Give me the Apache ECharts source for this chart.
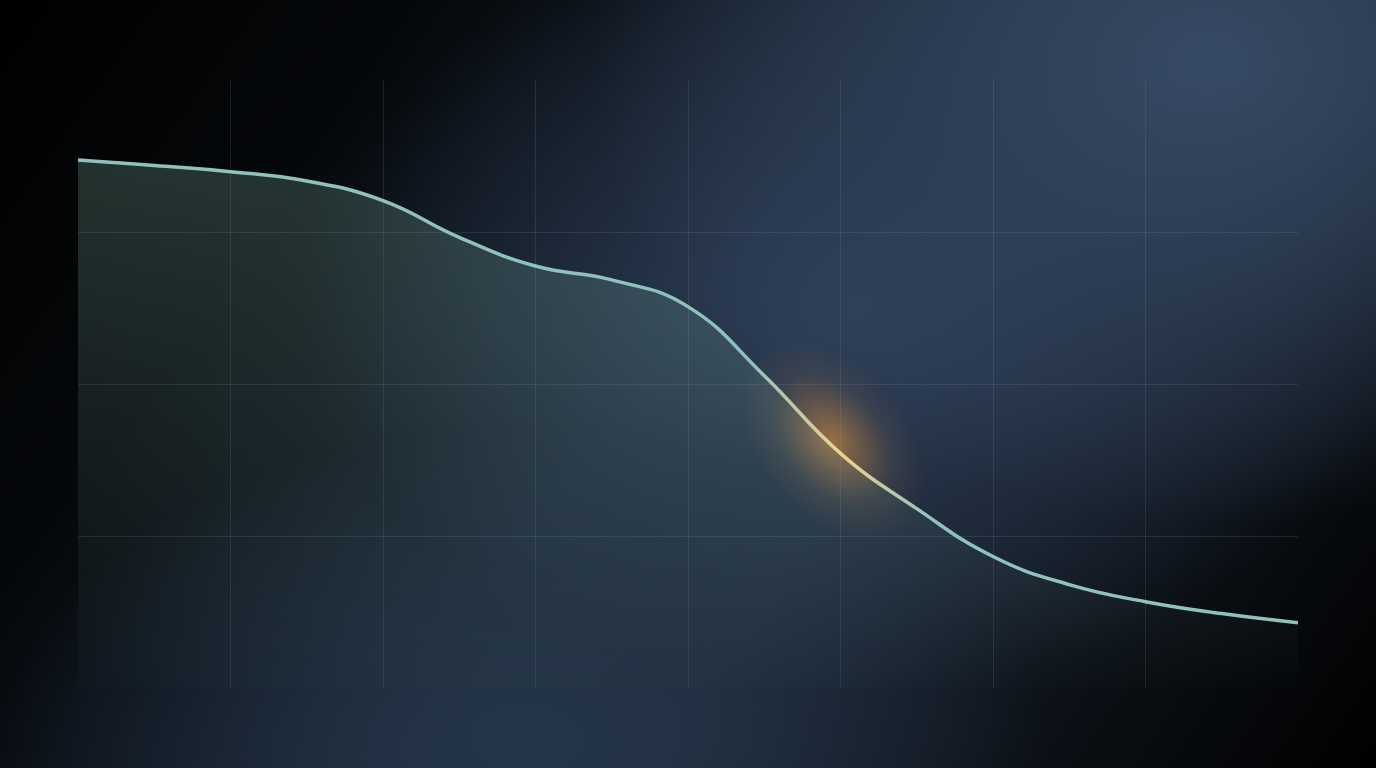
<!DOCTYPE html>
<html>
<head>
<meta charset="utf-8">
<script src="https://cdn.jsdelivr.net/npm/echarts@6/dist/echarts.min.js"></script>
<style>
  html, body { margin: 0; padding: 0; width: 100%; height: 100%; overflow: hidden; background: #000; }
  #main {
    width: 1376px; height: 768px;
    background:
      radial-gradient(ellipse 45% 60% at 88% 8%, rgba(55,74,100,1) 0%, rgba(48,66,90,0.8) 40%, rgba(40,55,75,0) 100%),
      radial-gradient(ellipse 40% 50% at 62% 40%, rgba(48,66,92,0.9) 0%, rgba(44,60,84,0.5) 50%, rgba(40,55,75,0) 100%),
      radial-gradient(ellipse 38% 40% at 38% 96%, rgba(38,55,75,0.95) 0%, rgba(38,55,75,0) 100%),
      linear-gradient(125deg, #000000 0%, #05080b 22%, #172230 48%, #1b2636 62%, #0a0e13 84%, #000000 100%);
  }
</style>
</head>
<body>
<div id="main"></div>
<script>
// x positions (grid units) and values
var xValues = [0, 0.5, 1, 1.5, 2, 2.5, 3, 3.5, 4, 4.5, 5, 5.5, 6, 6.5, 7, 7.5, 8];
var yValues = [3.474, 3.438, 3.397, 3.335, 3.207, 2.965, 2.776, 2.685, 2.509, 2.055, 1.544, 1.18, 0.865, 0.68, 0.568, 0.49, 0.43];
var glowPoint = [4.95, 1.63];

var chart = echarts.init(document.getElementById('main'));

var lineData = [];
for (var i = 0; i < xValues.length; i++) {
	lineData.push([xValues[i], yValues[i]]);
}

var gridLine = {
	show: true,
	showMinLine: false,
	showMaxLine: false,
	lineStyle: { color: 'rgba(150,170,190,0.15)', width: 1 }
};

option = {
	backgroundColor: 'transparent',
	animation: false,
	grid: { left: 78, right: 78, top: 80, bottom: 80 },
	xAxis: {
		type: 'value',
		min: 0,
		max: 8,
		interval: 1,
		axisLine: { show: false },
		axisTick: { show: false },
		axisLabel: { show: false },
		splitLine: gridLine
	},
	yAxis: {
		type: 'value',
		min: 0,
		max: 4,
		interval: 1,
		axisLine: { show: false },
		axisTick: { show: false },
		axisLabel: { show: false },
		splitLine: gridLine
	},
	series: [
		{
			type: 'scatter',
			z: 1,
			silent: true,
			symbol: 'circle',
			symbolSize: [150, 230],
			symbolRotate: 40,
			data: [glowPoint],
			itemStyle: {
				color: new echarts.graphic.RadialGradient(0.5, 0.5, 0.5, [
					{ offset: 0, color: 'rgba(240,160,65,0.7)' },
					{ offset: 0.3, color: 'rgba(225,150,70,0.45)' },
					{ offset: 0.65, color: 'rgba(200,140,70,0.14)' },
					{ offset: 1, color: 'rgba(200,140,70,0)' }
				])
			}
		},
		{
			type: 'line',
			z: 2,
			smooth: 0.45,
			symbol: 'none',
			data: lineData,
			lineStyle: {
				width: 3.5,
				color: new echarts.graphic.LinearGradient(0, 0, 1, 0, [
					{ offset: 0, color: '#8fc2bc' },
					{ offset: 0.55, color: '#8fc2bc' },
					{ offset: 0.625, color: '#ead392' },
					{ offset: 0.7, color: '#8fc2bc' },
					{ offset: 1, color: '#8fc2bc' }
				])
			},
			areaStyle: {
				color: new echarts.graphic.LinearGradient(0, 0, 0, 1, [
					{ offset: 0, color: 'rgba(130,180,165,0.38)' },
					{ offset: 1, color: 'rgba(130,180,165,0.02)' }
				])
			}
		}
	]
};
chart.setOption(option);
</script>
</body>
</html>
